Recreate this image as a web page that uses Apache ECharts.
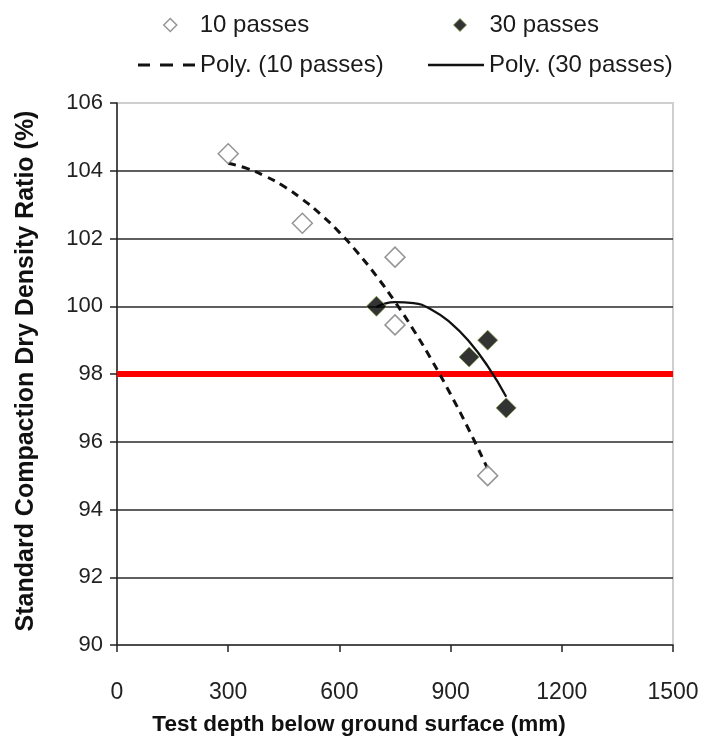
<!DOCTYPE html>
<html>
<head>
<meta charset="utf-8">
<script src="https://cdn.jsdelivr.net/npm/echarts@6/dist/echarts.min.js"></script>
<style>html,body{margin:0;padding:0;background:#fff;}#c{width:706px;height:741px;}</style>
</head>
<body>
<div id="c"></div>
<script>
// Data
const depth10 = [300, 500, 750, 750, 1000];
const ratio10 = [104.5, 102.45, 101.45, 99.45, 95.0];
const depth30 = [700, 950, 1000, 1050];
const ratio30 = [100.0, 98.5, 99.0, 97.0];
// Trendline points
const polyX10 = [300, 350, 400, 450, 500, 550, 600, 650, 700, 750, 800, 850, 900, 950, 1000];
const polyY10 = [104.22, 104.07, 103.84, 103.54, 103.16, 102.71, 102.18, 101.57, 100.89, 100.13, 99.30, 98.39, 97.40, 96.34, 95.20];
const polyX30 = [700, 750, 800, 850, 900, 950, 1000, 1050];
const polyY30 = [99.98, 100.12, 100.09, 99.89, 99.51, 98.96, 98.23, 97.33];
const limitX = [0, 1500];
const limitY = [98, 98];
const xTicks = [0, 300, 600, 900, 1200, 1500];
const yTicks = [90, 92, 94, 96, 98, 100, 102, 104, 106];

const zip = (a, b) => a.map((v, i) => [v, b[i]]);
const FONT = '"Liberation Sans", Arial, sans-serif';
const chart = echarts.init(document.getElementById('c'), null, {renderer: 'canvas'});
const legendText = {fontFamily: FONT, fontSize: 24, color: '#1a1a1a'};
const DASH_ICON = 'path://M0,0h12v3h-12z M22,0h13v3h-13z M45,0h12v3h-12z';
const SOLID_ICON = 'path://M0,0h56v2.5h-56z';
chart.setOption({
  animation: false,
  backgroundColor: '#fff',
  grid: {left: 117, right: 33, top: 103, bottom: 96, show: true, borderColor: '#cfcfcf', borderWidth: 2},
  legend: [
    {data: [{name: '10 passes', icon: 'diamond', itemStyle: {color: '#fff', borderColor: '#7a7a7a', borderWidth: 1.5}}],
      left: 158, top: 8, itemWidth: 13, itemHeight: 13, itemGap: 0, textStyle: Object.assign({padding: [0, 0, 0, 18]}, legendText)},
    {data: [{name: '30 passes', icon: 'diamond', itemStyle: {color: '#000', borderColor: '#7f9a50', borderWidth: 1}}],
      left: 448, top: 8, itemWidth: 13, itemHeight: 13, itemGap: 0, textStyle: Object.assign({padding: [0, 0, 0, 18]}, legendText)},
    {data: [{name: 'Poly. (10 passes)', icon: DASH_ICON, itemStyle: {color: '#111'}}], left: 133, top: 48, itemWidth: 57, itemHeight: 3,
      textStyle: legendText},
    {data: [{name: 'Poly. (30 passes)', icon: SOLID_ICON, itemStyle: {color: '#111'}}], left: 423, top: 48, itemWidth: 56, itemHeight: 2.5,
      textStyle: legendText}
  ],
  xAxis: {
    type: 'value', min: 0, max: 1500, interval: 300,
    name: 'Test depth below ground surface (mm)', nameLocation: 'middle', nameGap: 68,
    nameTextStyle: {fontFamily: FONT, fontSize: 22.5, fontWeight: 'bold', color: '#111', padding: [0, 72, 0, 0]},
    axisLine: {show: true, onZero: false, lineStyle: {color: '#222', width: 1.5}},
    axisTick: {show: true, inside: false, length: 7, lineStyle: {color: '#222', width: 1.5}},
    axisLabel: {margin: 36, fontFamily: FONT, fontSize: 23, color: '#222',
      formatter: v => xTicks.includes(v) ? String(v) : ''},
    splitLine: {show: false}
  },
  yAxis: {
    type: 'value', min: 90, max: 106, interval: 2,
    name: 'Standard Compaction Dry Density Ratio (%)', nameLocation: 'middle', nameGap: 78,
    nameTextStyle: {fontFamily: FONT, fontSize: 25, fontWeight: 'bold', color: '#111', padding: [0, 0, 0, 6]},
    axisLine: {show: true, onZero: false, lineStyle: {color: '#222', width: 1.5}},
    axisTick: {show: true, inside: false, length: 7, lineStyle: {color: '#222', width: 1.5}},
    axisLabel: {margin: 14, fontFamily: FONT, fontSize: 22, color: '#222',
      formatter: v => yTicks.includes(v) ? String(v) : ''},
    splitLine: {show: true, showMaxLine: false, showMinLine: false, lineStyle: {color: '#2a2a2a', width: 1.5}}
  },
  series: [
    {name: 'limit', type: 'line', data: zip(limitX, limitY), symbol: 'none', silent: true,
      lineStyle: {color: '#ff0000', width: 6}, z: 2},
    {name: 'Poly. (10 passes)', type: 'line', data: zip(polyX10, polyY10), symbol: 'none', smooth: true,
      lineStyle: {color: '#111', width: 3, type: [8, 6]}, itemStyle: {color: '#111'}, z: 3},
    {name: 'Poly. (30 passes)', type: 'line', data: zip(polyX30, polyY30), symbol: 'none', smooth: true,
      lineStyle: {color: '#111', width: 2.3}, itemStyle: {color: '#111'}, z: 3},
    {name: '10 passes', type: 'scatter', data: zip(depth10, ratio10), symbol: 'diamond', symbolSize: 20,
      itemStyle: {color: '#fff', borderColor: '#7a7a7a', borderWidth: 1.5}, z: 4},
    {name: '30 passes', type: 'scatter', data: zip(depth30, ratio30), symbol: 'diamond', symbolSize: 20,
      itemStyle: {color: '#000', borderColor: '#7f9a50', borderWidth: 1}, z: 4}
  ]
});
</script>
</body>
</html>
